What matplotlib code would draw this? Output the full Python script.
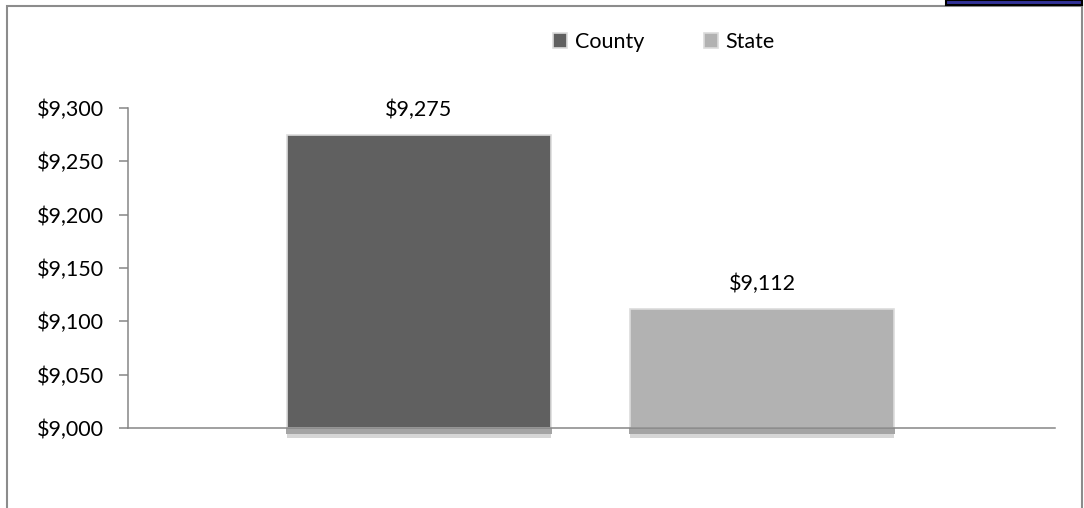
import matplotlib
matplotlib.use('Agg')
import matplotlib.pyplot as plt
from matplotlib.patches import Rectangle

plt.rcParams['font.family'] = ['Lato', 'DejaVu Sans']

series = ['County', 'State']
values = [9275, 9112]
colors = ['#606060', '#b2b2b2']
yticks = [9000, 9050, 9100, 9150, 9200, 9250, 9300]

W, H = 1084, 508
FS = 15.5
fig = plt.figure(figsize=(W / 100, H / 100), dpi=100)

# outer chart frame (bottom edge runs off the picture)
fig.patches.append(Rectangle((6.5 / W, -0.1), (1081.5 - 6.5) / W, 1.1 - 6.5 / H,
                             transform=fig.transFigure, fill=False,
                             edgecolor='#8c8c8c', linewidth=1.5))
# dark tab at the top right
fig.patches.append(Rectangle((946 / W, 1 - 5 / H), (1082 - 946) / W, 5 / H,
                             transform=fig.transFigure, facecolor='#333399',
                             edgecolor='black', linewidth=1.5))

ax = fig.add_axes([128 / W, 80 / H, (1055 - 128) / W, 320 / H])

pos = [0, 1]
width = 0.767
bars = ax.bar(pos, [v - 9000 for v in values], width, bottom=9000, color=colors,
              edgecolor='#dcdcdc', linewidth=1.2, zorder=3, label=series)

# soft shadow under the bars
px = 300 / 320
for p in pos:
    ax.add_patch(Rectangle((p - width / 2 - 0.005, 9000 - 6 * px), width + 0.01, 6 * px,
                           facecolor='#a4a4a4', edgecolor='none', clip_on=False, zorder=1))
    ax.add_patch(Rectangle((p - width / 2, 9000 - 10 * px), width, 4 * px,
                           facecolor='#d6d6d6', edgecolor='none', clip_on=False, zorder=1))

for p, v in zip(pos, values):
    ax.annotate('${:,}'.format(v), (p, v), xytext=(0, 18), textcoords='offset points',
                ha='center', va='center', fontsize=FS, color='black')

ax.set_xlim(-0.848, 1.854)
ax.set_ylim(9000, 9300)
ax.set_yticks(yticks)
ax.set_yticklabels(['${:,}'.format(t) for t in yticks], fontsize=FS)
ax.set_xticks([])
ax.tick_params(axis='y', direction='out', length=6.5, width=1.1, color='#868686', pad=11)

for s in ['top', 'right']:
    ax.spines[s].set_visible(False)
for s in ['left', 'bottom']:
    ax.spines[s].set_color('#868686')
    ax.spines[s].set_linewidth(1.1)
    ax.spines[s].set_zorder(4)

leg = fig.legend(bars, series, loc='center', bbox_to_anchor=(664 / W, 1 - 42 / H), ncol=2,
                 frameon=False, fontsize=FS, handlelength=0.65, handleheight=0.65,
                 handletextpad=0.35, columnspacing=2.8)

fig.savefig('out.png', dpi=100)
